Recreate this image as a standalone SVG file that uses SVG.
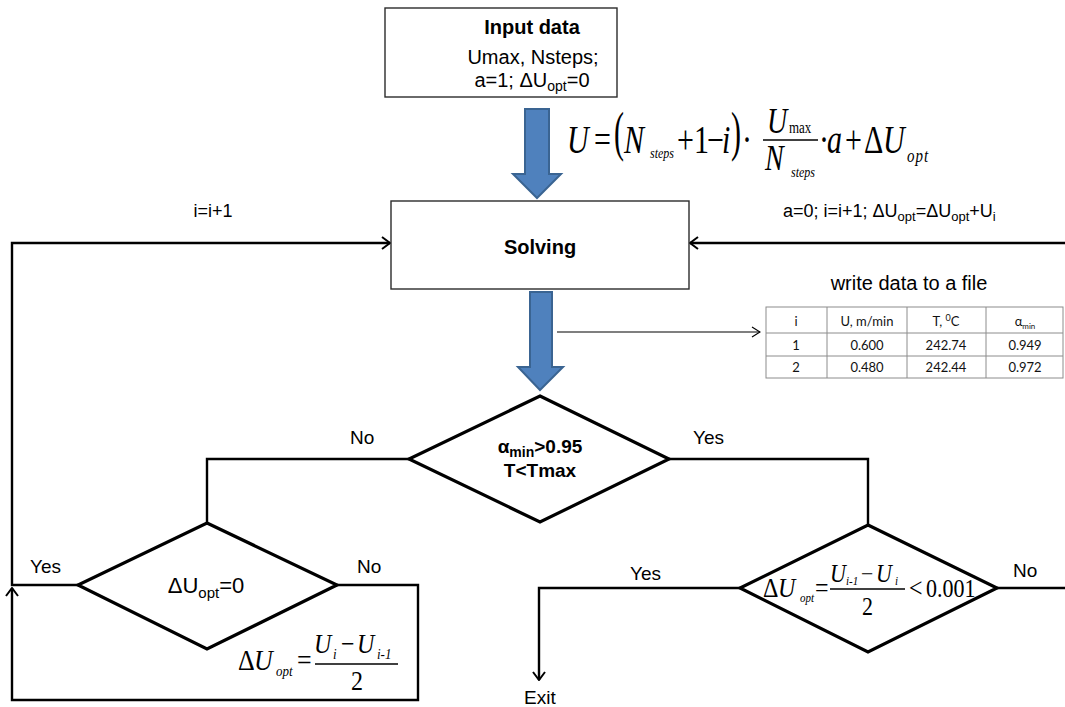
<svg xmlns="http://www.w3.org/2000/svg" width="1065" height="707" viewBox="0 0 1065 707">
<defs>
<style>
.s{font-family:"Liberation Sans",Arial,sans-serif;fill:#000}
.b{font-weight:bold}
.mi{font-family:"Liberation Serif","Times New Roman",serif;font-style:italic;fill:#000}
.mr{font-family:"Liberation Serif","Times New Roman",serif;fill:#000}
.t{font-family:Lato,"Open Sans",sans-serif;font-size:13px;fill:#111;text-anchor:middle}
.box{fill:#fff;stroke:#2b2b2b;stroke-width:1.4}
.dia{fill:#fff;stroke:#000;stroke-width:3.2;stroke-linejoin:miter}
.con{fill:none;stroke:#000;stroke-width:2.4}
.thin{fill:none;stroke:#000;stroke-width:1.1}
.big{fill:#4F81BD;stroke:#3A6492;stroke-width:2}
.grid{fill:none;stroke:#8c8c8c;stroke-width:1}
.bar{stroke:#000;stroke-width:1.3}
</style>
<marker id="ah" markerUnits="userSpaceOnUse" viewBox="0 0 10 14" refX="9" refY="7" markerWidth="10" markerHeight="14" orient="auto"><path d="M1,1 L9,7 L1,13" fill="none" stroke="#000" stroke-width="2"/></marker>
<marker id="ahs" markerUnits="userSpaceOnUse" viewBox="0 0 10 12" refX="9" refY="6" markerWidth="10" markerHeight="12" orient="auto"><path d="M1,1 L9,6 L1,11" fill="none" stroke="#000" stroke-width="1.2"/></marker>
</defs>
<rect width="1065" height="707" fill="#fff"/>

<g id="connectors">
<path class="con" d="M78,585 H12 V243 H390" marker-end="url(#ah)"/>
<path class="con" d="M1065,243 H690" marker-end="url(#ah)"/>
<path class="con" d="M337,585 H418 V700 H12 V588" marker-end="url(#ah)"/>
<path class="con" d="M409,459 H207 V523"/>
<path class="con" d="M669,459 H868 V525"/>
<path class="con" d="M740,588 H539 V680" marker-end="url(#ah)"/>
<path class="con" d="M997,588 H1065"/>
<path class="thin" d="M557,332 H760" marker-end="url(#ahs)"/>
<polygon class="big" points="525,109 549,109 549,174 561,174 537,198 513,174 525,174"/>
<polygon class="big" points="530,292 552,292 552,367 563,367 540,390 518,367 530,367"/>
</g>

<g id="input">
<rect class="box" x="385" y="8" width="232" height="89"/>
<text class="s b" x="532" y="34" font-size="20" text-anchor="middle">Input data</text>
<text class="s" x="533" y="64" font-size="20" text-anchor="middle">Umax, Nsteps;</text>
<text class="s" x="532" y="87" font-size="20" text-anchor="middle">a=1; ΔU<tspan font-size="14" dy="4">opt</tspan><tspan dy="-4">=0</tspan></text>
</g>

<g id="formula-u">
<text class="mi" font-size="30" transform="translate(567,153) scale(1,1.3)">U</text>
<text class="mr" font-size="30" transform="translate(594,153) scale(1,1.3)">=</text>
<text class="mr" font-size="30" transform="translate(614,150) scale(1,1.8)">(</text>
<text class="mi" font-size="30" transform="translate(624,153) scale(1,1.3)">N</text>
<text class="mi" font-size="12" transform="translate(650,158) scale(1,1.3)">steps</text>
<text class="mr" font-size="30" transform="translate(677,153) scale(1,1.3)">+</text>
<text class="mr" font-size="30" transform="translate(694,153) scale(1,1.3)">1</text>
<text class="mr" font-size="30" transform="translate(707,153) scale(1,1.3)">−</text>
<text class="mi" font-size="30" transform="translate(722,153) scale(1,1.3)">i</text>
<text class="mr" font-size="30" transform="translate(731,150) scale(1,1.8)">)</text>
<text class="mr" font-size="30" transform="translate(742,153) scale(1,1.3)">·</text>
<line class="bar" x1="763" y1="140" x2="818" y2="140"/>
<text class="mi" font-size="28" transform="translate(767,133) scale(1,1.3)">U</text>
<text class="mr" font-size="13" transform="translate(789,133) scale(1,1.3)">max</text>
<text class="mi" font-size="28" transform="translate(765,170) scale(1,1.3)">N</text>
<text class="mi" font-size="12" transform="translate(791,177) scale(1,1.3)">steps</text>
<text class="mr" font-size="30" transform="translate(819,153) scale(1,1.3)">·</text>
<text class="mi" font-size="30" transform="translate(827,153) scale(1,1.3)">a</text>
<text class="mr" font-size="30" transform="translate(845,153) scale(1,1.3)">+</text>
<text class="mr" font-size="30" transform="translate(864,153) scale(1,1.3)">Δ</text>
<text class="mi" font-size="30" transform="translate(883,153) scale(1,1.3)">U</text>
<text class="mi" font-size="15" letter-spacing="1" transform="translate(907,162) scale(1,1.3)">opt</text>
</g>

<g id="solving">
<rect class="box" x="391" y="201" width="298" height="88"/>
<text class="s b" x="540" y="254" font-size="20" text-anchor="middle">Solving</text>
</g>

<g id="labels-loop">
<text class="s" x="213" y="217" font-size="18" text-anchor="middle">i=i+1</text>
<text class="s" x="783" y="217" font-size="18">a=0; i=i+1; ΔU<tspan font-size="13" dy="4">opt</tspan><tspan dy="-4">=ΔU</tspan><tspan font-size="13" dy="4">opt</tspan><tspan dy="-4">+U</tspan><tspan font-size="13" dy="4">i</tspan></text>
</g>

<g id="data-file">
<text class="s" x="909" y="290" font-size="20" text-anchor="middle">write data to a file</text>
<rect class="grid" x="766" y="307" width="297" height="71"/>
<path class="grid" d="M766,333 H1063 M766,356 H1063 M827,307 V378 M907,307 V378 M986,307 V378"/>
<text class="t" x="796" y="326">i</text>
<text class="t" x="867" y="326">U, m/min</text>
<text class="t" x="946" y="326">T, <tspan font-size="9" dy="-5">0</tspan><tspan dy="5">C</tspan></text>
<text class="t" x="1025" y="326">α<tspan font-size="8" dy="3">min</tspan></text>
<text class="t" x="796" y="350">1</text>
<text class="t" x="867" y="350">0.600</text>
<text class="t" x="946" y="350">242.74</text>
<text class="t" x="1025" y="350">0.949</text>
<text class="t" x="796" y="372">2</text>
<text class="t" x="867" y="372">0.480</text>
<text class="t" x="946" y="372">242.44</text>
<text class="t" x="1025" y="372">0.972</text>
</g>

<g id="decision-alpha">
<polygon class="dia" points="540,396 669,459 540,522 409,459"/>
<text class="s b" x="540" y="453" font-size="19" text-anchor="middle">α<tspan font-size="14" dy="4">min</tspan><tspan dy="-4">&gt;0.95</tspan></text>
<text class="s b" x="540" y="477" font-size="19" text-anchor="middle">T&lt;Tmax</text>
<text class="s" x="350" y="444" font-size="19">No</text>
<text class="s" x="693" y="444" font-size="19">Yes</text>
</g>

<g id="decision-du0">
<polygon class="dia" points="207,523 337,585 207,649 78,585"/>
<text class="s" x="206" y="593" font-size="22" text-anchor="middle">ΔU<tspan font-size="15" dy="5">opt</tspan><tspan dy="-5">=0</tspan></text>
<text class="s" x="30" y="573" font-size="19">Yes</text>
<text class="s" x="357" y="573" font-size="19">No</text>
</g>

<g id="formula-du">
<text class="mr" font-size="26" transform="translate(238,670) scale(1,1.15)">Δ</text>
<text class="mi" font-size="26" transform="translate(254,670) scale(1,1.15)">U</text>
<text class="mi" font-size="13" transform="translate(276,676) scale(1,1.15)">opt</text>
<text class="mr" font-size="26" transform="translate(297,670) scale(1,1.15)">=</text>
<line class="bar" x1="315" y1="664" x2="398" y2="664"/>
<text class="mi" font-size="24" transform="translate(314,653) scale(1,1.15)">U</text>
<text class="mi" font-size="13" transform="translate(333,659) scale(1,1.15)">i</text>
<text class="mr" font-size="24" transform="translate(341,653) scale(1,1.15)">−</text>
<text class="mi" font-size="24" transform="translate(357,653) scale(1,1.15)">U</text>
<text class="mi" font-size="13" transform="translate(377,659) scale(1,1.15)">i<tspan class="mr">-1</tspan></text>
<text class="mr" font-size="24" transform="translate(351,690) scale(1,1.15)">2</text>
</g>

<g id="decision-conv">
<polygon class="dia" points="868,525 997,588 868,652 740,588"/>
<text class="mr" font-size="24" transform="translate(763,597) scale(1,1.1)">Δ</text>
<text class="mi" font-size="24" transform="translate(778,597) scale(1,1.1)">U</text>
<text class="mi" font-size="11" transform="translate(800,602) scale(1,1.1)">opt</text>
<text class="mr" font-size="24" transform="translate(815,597) scale(1,1.1)">=</text>
<line class="bar" x1="830" y1="589" x2="905" y2="589"/>
<text class="mi" font-size="22" transform="translate(830,582) scale(1,1.1)">U</text>
<text class="mi" font-size="11" transform="translate(846,585) scale(1,1.1)">i<tspan class="mr">-1</tspan></text>
<text class="mr" font-size="22" transform="translate(861,582) scale(1,1.1)">−</text>
<text class="mi" font-size="22" transform="translate(876,582) scale(1,1.1)">U</text>
<text class="mi" font-size="11" transform="translate(895,585) scale(1,1.1)">i</text>
<text class="mr" font-size="22" transform="translate(862,615) scale(1,1.1)">2</text>
<text class="mr" font-size="24" transform="translate(909,597) scale(1,1.1)">&lt;</text>
<text class="mr" font-size="22" transform="translate(926,597) scale(1,1.1)">0.001</text>
<text class="s" x="630" y="580" font-size="19">Yes</text>
<text class="s" x="1013" y="577" font-size="19">No</text>
</g>

<g id="exit">
<text class="s" x="524" y="704" font-size="19">Exit</text>
</g>
</svg>
